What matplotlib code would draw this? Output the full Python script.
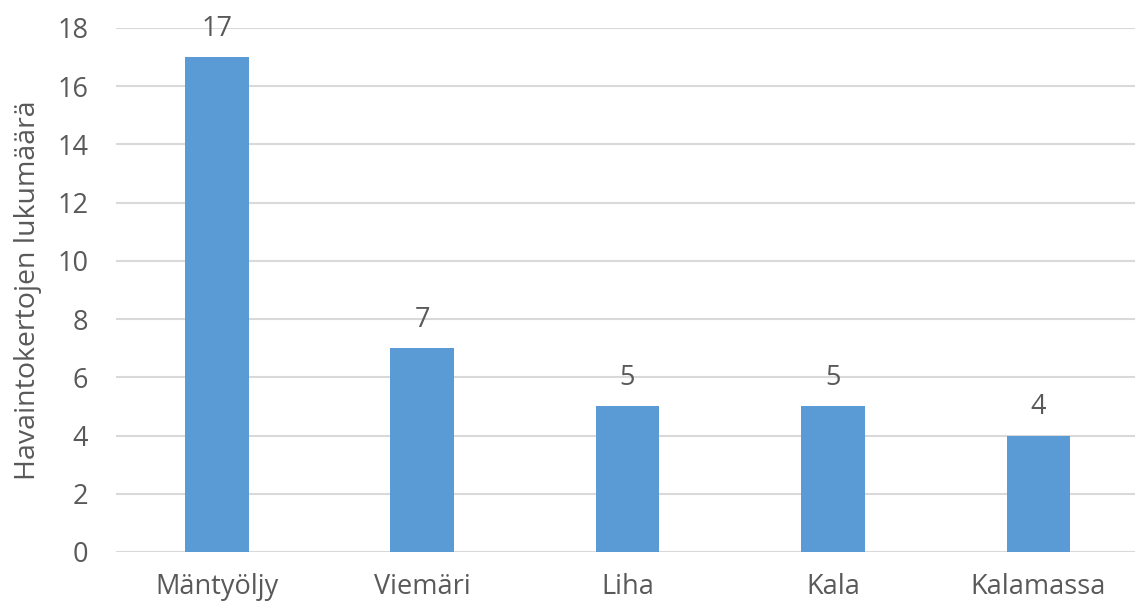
import matplotlib
matplotlib.use("Agg")
import matplotlib.pyplot as plt

categories = ["Mäntyöljy", "Viemäri", "Liha", "Kala", "Kalamassa"]
counts = [17, 7, 5, 5, 4]
y_ticks = [0, 2, 4, 6, 8, 10, 12, 14, 16, 18]
y_label = "Havaintokertojen lukumäärä"

plt.rcParams["font.family"] = ["Open Sans", "DejaVu Sans"]
text_color = "#595959"
bar_color = "#5B9BD5"
grid_color = "#D9D9D9"
fs = 19.5

W, H = 1135, 605
left_px = 116
fig = plt.figure(figsize=(W / 100, H / 100), dpi=100)
ax = fig.add_axes([left_px / W, (H - 552) / H, 1 - left_px / W, (552 - 28) / H])

x = list(range(len(categories)))
ax.bar(x, counts, width=0.31, color=bar_color, zorder=3)

for xi, v in zip(x, counts):
    ax.text(xi, v + 0.5, str(v), ha="center", va="bottom",
            fontsize=fs, color=text_color, zorder=4)

ax.set_xlim(-0.49, 4.47)
ax.set_ylim(0, 18)
ax.set_yticks(y_ticks)
ax.set_xticks(x)
ax.set_xticklabels(categories)
ax.tick_params(axis="both", length=0, labelsize=fs, labelcolor=text_color)
ax.tick_params(axis="y", pad=20)
ax.tick_params(axis="x", pad=15)

ax.yaxis.grid(True, color=grid_color, linewidth=1.5, zorder=0)
ax.set_axisbelow(True)
for s in ax.spines.values():
    s.set_visible(False)

ax.set_ylabel(y_label, fontsize=20.5, color=text_color, va="center")
ax.yaxis.set_label_coords((28 - left_px) / (W - left_px), 0.5)

fig.savefig("out.png", dpi=100, facecolor="white")
